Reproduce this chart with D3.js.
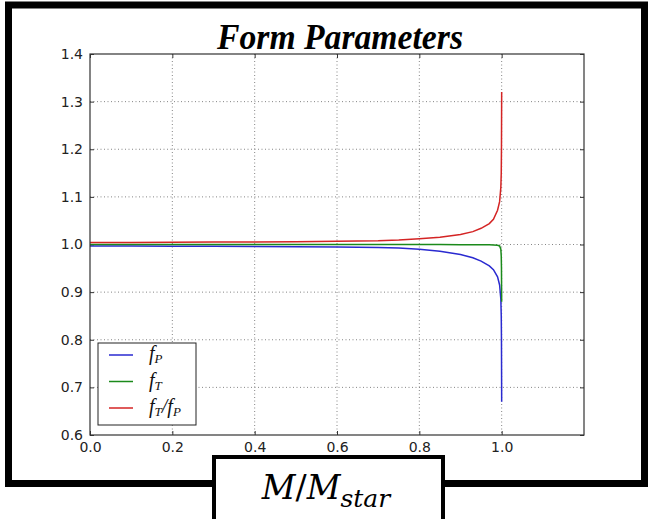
<!DOCTYPE html>
<html>
<head>
<meta charset="utf-8">
<script src="https://cdn.jsdelivr.net/npm/d3@7"></script>
<style>
  body { margin: 0; background: #fff; }
  svg { display: block; }
</style>
</head>
<body>
<div id="chart"></div>
<script>
const massRatio = [0, 0.1, 0.2, 0.3, 0.4, 0.5, 0.6, 0.7, 0.75, 0.8, 0.85, 0.9, 0.93, 0.95, 0.97, 0.98, 0.99, 0.995, 0.998, 0.999, 0.9995, 1.0];
const fP = [0.997, 0.9968, 0.9965, 0.9962, 0.9958, 0.9953, 0.9947, 0.9938, 0.9925, 0.990, 0.986, 0.979, 0.972, 0.965, 0.955, 0.947, 0.932, 0.915, 0.885, 0.85, 0.80, 0.67];
const fT = [1.000, 1.000, 1.000, 1.000, 1.000, 1.000, 1.000, 1.000, 1.000, 0.9999, 0.9998, 0.9997, 0.9996, 0.9995, 0.9993, 0.9991, 0.9985, 0.997, 0.99, 0.975, 0.95, 0.88];
const fRatio = [1.004, 1.004, 1.0045, 1.005, 1.0055, 1.006, 1.007, 1.008, 1.0095, 1.012, 1.015, 1.021, 1.027, 1.034, 1.044, 1.053, 1.072, 1.09, 1.12, 1.15, 1.2, 1.32];

const xTicks = [0, 0.2, 0.4, 0.6, 0.8, 1.0];
const xGrid = [0.2, 0.4, 0.6, 0.8, 1.0];
const yTicks = [0.6, 0.7, 0.8, 0.9, 1.0, 1.1, 1.2, 1.3, 1.4];

const series = [
  { name: 'P', values: fP, color: '#2a2ad0' },
  { name: 'T', values: fT, color: '#1b8a1b' },
  { name: 'TP', values: fRatio, color: '#d42424' }
];

const width = 650, height = 519;
const plot = { left: 90, right: 584, top: 54, bottom: 435 };

const svg = d3.select('#chart').append('svg')
  .attr('width', width).attr('height', height);

// outer black frame
svg.append('rect')
  .attr('x', 8.5).attr('y', 5).attr('width', 636).attr('height', 478.5)
  .attr('fill', '#fff').attr('stroke', '#000').attr('stroke-width', 7);

const x = d3.scaleLinear().domain([0, 1.2]).range([plot.left, plot.right]);
const y = d3.scaleLinear().domain([0.6, 1.4]).range([plot.bottom, plot.top]);

// grid
const grid = svg.append('g').attr('stroke', '#666').attr('stroke-width', 0.8).attr('stroke-dasharray', '1,2.5');
grid.selectAll('.gx').data(xGrid).enter().append('line')
  .attr('x1', d => x(d)).attr('x2', d => x(d))
  .attr('y1', plot.top).attr('y2', plot.bottom);
grid.selectAll('.gy').data(yTicks.slice(1, -1)).enter().append('line')
  .attr('x1', plot.left).attr('x2', plot.right)
  .attr('y1', d => y(d)).attr('y2', d => y(d));

// axes: ticks point inward, on all four sides
const tickFont = g => g.selectAll('text')
  .style('font-family', 'DejaVu Sans').style('font-size', '14px').attr('fill', '#222');

const xAxis = svg.append('g').attr('transform', `translate(0,${plot.bottom})`)
  .call(d3.axisBottom(x).tickValues(xTicks).tickFormat(d3.format('.1f')).tickSizeInner(-4).tickSizeOuter(0).tickPadding(7));
xAxis.call(tickFont);
xAxis.select('.domain').remove();
xAxis.selectAll('line').attr('stroke', '#333');

const yAxis = svg.append('g').attr('transform', `translate(${plot.left},0)`)
  .call(d3.axisLeft(y).tickValues(yTicks).tickFormat(d3.format('.1f')).tickSizeInner(-4).tickSizeOuter(0).tickPadding(7));
yAxis.call(tickFont);
yAxis.select('.domain').remove();
yAxis.selectAll('line').attr('stroke', '#333');

const topAxis = svg.append('g').attr('transform', `translate(0,${plot.top})`)
  .call(d3.axisTop(x).tickValues(xTicks).tickFormat('').tickSizeInner(-4).tickSizeOuter(0));
topAxis.select('.domain').remove();
topAxis.selectAll('line').attr('stroke', '#333');

const rightAxis = svg.append('g').attr('transform', `translate(${plot.right},0)`)
  .call(d3.axisRight(y).tickValues(yTicks).tickFormat('').tickSizeInner(-4).tickSizeOuter(0));
rightAxis.select('.domain').remove();
rightAxis.selectAll('line').attr('stroke', '#333');

// curves
const line = d3.line().x((d, i) => x(massRatio[i])).y(d => y(d));
svg.append('g').selectAll('path').data(series).enter().append('path')
  .attr('d', d => line(d.values))
  .attr('fill', 'none')
  .attr('stroke', d => d.color)
  .attr('stroke-width', 1.5);

// plot frame
svg.append('rect')
  .attr('x', plot.left).attr('y', plot.top)
  .attr('width', plot.right - plot.left).attr('height', plot.bottom - plot.top)
  .attr('fill', 'none').attr('stroke', '#333').attr('stroke-width', 1.2);

// legend
const legend = svg.append('g');
legend.append('rect')
  .attr('x', 98).attr('y', 343).attr('width', 98).attr('height', 82)
  .attr('fill', '#fff').attr('stroke', '#222').attr('stroke-width', 1);
const rowY = d3.scalePoint().domain(series.map(d => d.name)).range([355, 408]);
legend.selectAll('line').data(series).enter().append('line')
  .attr('x1', 109).attr('x2', 133)
  .attr('y1', d => rowY(d.name)).attr('y2', d => rowY(d.name))
  .attr('stroke', d => d.color).attr('stroke-width', 1.5);

const labelText = legend.selectAll('text').data(series).enter().append('text')
  .attr('x', 149).attr('y', d => rowY(d.name) + 5)
  .style('font-family', 'Liberation Serif').style('font-style', 'italic').style('font-size', '20px')
  .attr('fill', '#111');
labelText.each(function(d) {
  const t = d3.select(this);
  const sub = (s) => t.append('tspan').attr('dy', 3).style('font-size', '13px').text(s);
  if (d.name === 'P') { t.append('tspan').text('f'); sub('P'); }
  else if (d.name === 'T') { t.append('tspan').text('f'); sub('T'); }
  else {
    t.append('tspan').text('f'); sub('T');
    t.append('tspan').attr('dy', -3).text('/f'); sub('P');
  }
});

// title
svg.append('text')
  .attr('x', 340).attr('y', 49).attr('text-anchor', 'middle')
  .style('font-family', 'Liberation Serif').style('font-weight', 'bold').style('font-style', 'italic')
  .style('font-size', '36px').attr('fill', '#000')
  .attr('textLength', 246).attr('lengthAdjust', 'spacingAndGlyphs')
  .text('Form Parameters');

// x-axis label box
svg.append('rect')
  .attr('x', 214).attr('y', 457).attr('width', 229).attr('height', 70)
  .attr('fill', '#fff').attr('stroke', '#000').attr('stroke-width', 4);
const xl = svg.append('text')
  .attr('x', 326).attr('y', 499).attr('text-anchor', 'middle')
  .style('font-family', 'DejaVu Serif').style('font-size', '33px').attr('fill', '#000');
xl.append('tspan').style('font-style', 'italic').text('M');
xl.append('tspan').text('/');
xl.append('tspan').style('font-style', 'italic').text('M');
xl.append('tspan').attr('dy', 8).style('font-style', 'italic').style('font-size', '25px').text('star');
</script>
</body>
</html>
